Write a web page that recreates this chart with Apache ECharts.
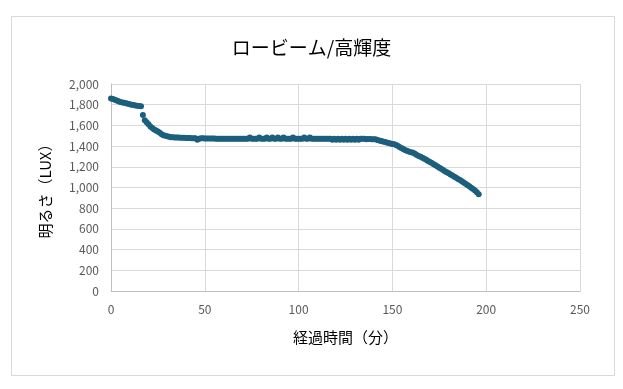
<!DOCTYPE html>
<html><head><meta charset="utf-8">
<script src="https://cdn.jsdelivr.net/npm/echarts@6/dist/echarts.min.js"></script>
<style>html,body{margin:0;padding:0;background:#fff;}#c{width:623px;height:389px;}</style>
</head><body><div id="c"></div>
<script>
const titleText = 'ロービーム/高輝度';
const xName = '経過時間（分）';
const yName = '明るさ（LUX）';
const xTicks = [0, 50, 100, 150, 200, 250];
const yTicks = [0, 200, 400, 600, 800, 1000, 1200, 1400, 1600, 1800, 2000];
// minutes 0..31
const luxStart = [1860,1855,1848,1840,1833,1827,1822,1818,1813,1808,1804,1800,1797,1793,1790,1787,1785,
  1700,1650,1630,1610,1590,1575,1560,1550,1540,1530,1515,1505,1500,1495,1490];
// minutes 32..140
const luxFlat = [
  1485,1485,1483,1482,1482,1480,1480,1480,1478,1478,
  1478,1477,1477,1476,1462,1470,1475,1476,1474,1474,
  1474,1473,1473,1473,1472,1472,1472,1472,1472,1472,
  1472,1472,1472,1472,1472,1472,1472,1472,1472,1472,
  1472,1472,1483,1472,1472,1472,1472,1483,1472,1472,
  1472,1483,1472,1472,1483,1472,1472,1483,1472,1472,
  1483,1472,1472,1472,1472,1483,1472,1472,1472,1472,
  1472,1483,1472,1472,1483,1472,1472,1472,1472,1472,
  1472,1472,1472,1472,1472,1472,1462,1470,1462,1470,
  1462,1470,1462,1470,1462,1470,1462,1470,1462,1470,
  1462,1470,1470,1470,1465,1468,1468,1466,1466];
// minutes 141..196
const luxEnd = [1465,1460,1455,1450,1445,1440,1435,1430,1425,1420,
  1418,1410,1400,1390,1380,1370,1360,1352,1346,1340,1335,1325,1315,1305,1298,1288,1278,1268,1257,1247,1236,1225,
  1214,1202,1191,1180,1170,1158,1148,1137,1126,1115,1104,1093,1082,1072,1060,1048,1036,1024,1012,998,985,970,955,935];
const lux = luxStart.concat(luxFlat, luxEnd);
const minutes = lux.map((v, i) => i);
const data = minutes.map((t, i) => [t, lux[i]]);

const chart = echarts.init(document.getElementById('c'));
const font = '"Noto Sans CJK JP", "Noto Sans", sans-serif';
chart.setOption({
  animation: false,
  backgroundColor: '#fff',
  graphic: [{type: 'rect', shape: {x: 11.5, y: 16.5, width: 603, height: 359}, style: {fill: 'none', stroke: '#d9d9d9', lineWidth: 1}, z: -1}],
  title: {text: titleText, left: 'center', top: 33, textStyle: {fontFamily: font, fontSize: 19, fontWeight: 'normal', color: '#000'}},
  grid: {left: 111, right: 43, top: 84, bottom: 98},
  xAxis: {type: 'value', min: 0, max: 250, interval: 50, name: xName, nameLocation: 'middle', nameGap: 39,
    nameTextStyle: {fontFamily: font, fontSize: 15, color: '#000'},
    axisLine: {show: true, lineStyle: {color: '#bfbfbf'}}, axisTick: {show: false},
    axisLabel: {fontFamily: font, fontSize: 12, color: '#595959', margin: 12},
    splitLine: {show: true, lineStyle: {color: '#d9d9d9'}}},
  yAxis: {type: 'value', min: 0, max: 2000, interval: 200, name: yName, nameLocation: 'middle', nameGap: 58,
    nameTextStyle: {fontFamily: font, fontSize: 15, color: '#000'},
    axisLine: {show: true, lineStyle: {color: '#bfbfbf'}}, axisTick: {show: false},
    axisLabel: {fontFamily: font, fontSize: 12, color: '#595959', margin: 12,
      formatter: v => v.toLocaleString('en-US')},
    splitLine: {show: true, lineStyle: {color: '#d9d9d9'}}},
  series: [{type: 'scatter', data: data, symbol: 'circle', symbolSize: 6,
    itemStyle: {color: '#1c5f7d', opacity: 1}}]
});
</script></body></html>
